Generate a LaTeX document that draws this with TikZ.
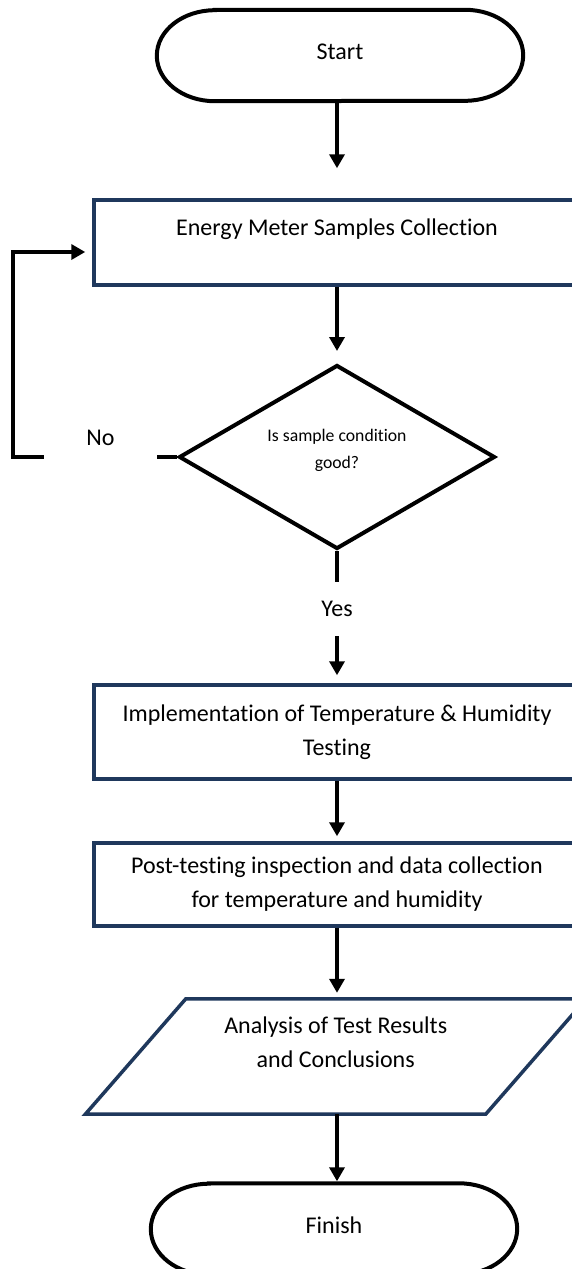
\documentclass[tikz,border=0pt]{standalone}
\usepackage{fontspec}
\setmainfont[Ligatures=NoCommon]{Carlito}
\usetikzlibrary{arrows.meta,shapes.geometric}
\definecolor{navy}{RGB}{31,56,92}
\newcommand{\liftup}[2]{\raisebox{#1}[\height][\depth]{#2}}
\begin{document}
\begin{tikzpicture}[x=1pt,y=-1pt,
  line/.style={line width=4pt,black},
  arr/.style={line width=4pt,black,-{Triangle[width=15pt,length=14pt]}},
  pill/.style={minimum width=366pt,minimum height=91pt,inner sep=0pt,font=\fontsize{24}{34}\selectfont},
  procbox/.style={draw=navy,line width=3.5pt,minimum width=486pt,inner sep=0pt,align=center,font=\fontsize{24}{34}\selectfont},
  decbox/.style={diamond,draw=black,line width=4pt,minimum width=316pt,minimum height=184pt,inner sep=0pt,align=center,font=\fontsize{17.7}{27}\selectfont},
  lbl/.style={inner sep=0pt,font=\fontsize{24}{30}\selectfont}]
\useasboundingbox (0,0) rectangle (572,1269);
\clip (0,0) rectangle (572,1269);

% Start
\node[pill] (start) at (340,55.5) {\liftup{4pt}{Start}};
\draw[line] ([xshift=58pt]start.north west) -- ([xshift=-58pt]start.north east)
  arc[start angle=90,end angle=-90,x radius=58pt,y radius=45.5pt]
  -- ([xshift=58pt]start.south west)
  arc[start angle=270,end angle=90,x radius=58pt,y radius=45.5pt] -- cycle;

% Energy meter samples collection
\node[procbox,minimum height=85pt] (box1) at (337,242.5) {\liftup{13pt}{Energy Meter Samples Collection}};

% Decision
\node[decbox] (dec) at (337,457) {\liftup{7pt}{Is sample condition}\\\liftup{7pt}{good?}};

% Labels
\node[lbl,minimum height=54pt] (yes) at (337,609) {Yes};
\node[lbl,minimum width=113pt] (no) at (100.5,457) {\liftup{19pt}{No}};
\coordinate (fb) at (13,252);

% Implementation
\node[procbox,minimum height=94pt] (box2) at (337,732) {Implementation of Temperature \& Humidity\\Testing};

% Post-testing
\node[procbox,minimum height=83pt] (box3) at (337,884.5) {Post-testing inspection and data collection\\for temperature and humidity};

% Analysis (parallelogram)
\node[minimum width=400pt,minimum height=115pt,inner sep=0pt,align=center,font=\fontsize{24}{34}\selectfont] (para) at (335.75,1056.5)
  {\liftup{14pt}{Analysis of Test Results}\\\liftup{14pt}{and Conclusions}};
\draw[navy,line width=3.5pt,line join=miter] ([xshift=50.25pt]para.north west) -- ([xshift=50.25pt]para.north east)
  -- ([xshift=-50.25pt]para.south east) -- ([xshift=-50.25pt]para.south west) -- cycle;

% Finish
\node[pill] (finish) at (334,1229) {\liftup{4pt}{Finish}};
\draw[line] ([xshift=58pt]finish.north west) -- ([xshift=-58pt]finish.north east)
  arc[start angle=90,end angle=-90,x radius=58pt,y radius=45.5pt]
  -- ([xshift=58pt]finish.south west)
  arc[start angle=270,end angle=90,x radius=58pt,y radius=45.5pt] -- cycle;

% Connectors
\draw[arr,shorten >=30pt] (start.south -| box1.north) -- (box1.north);
\draw[arr,shorten >=12pt] (box1.south) -- (dec.north);
\draw[line] (dec.south) -- (yes.north);
\draw[arr,shorten >=8pt] (yes.south) -- (box2.north);
\draw[arr,shorten >=5pt] (box2.south) -- (box3.north);
\draw[arr,shorten >=6pt] (box3.south) -- (box3.south |- para.north);
\draw[arr,shorten >=2pt] (para.south -| box3.south) -- (finish.north -| box3.south);
\draw[line] (dec.west) -- (no.east);
\draw[arr,shorten >=7pt] (no.west) -| (fb) -- (fb -| box1.west);
\end{tikzpicture}
\end{document}
